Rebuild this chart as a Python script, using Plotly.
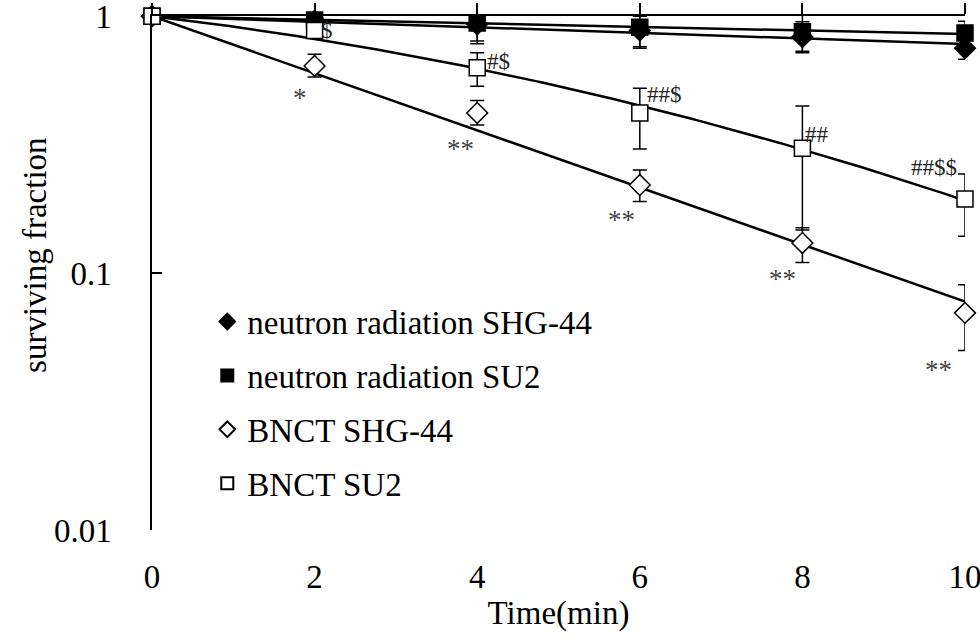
import numpy as np
import plotly.graph_objects as go

# ---- data ----
time_min = [0, 2, 4, 6, 8, 10]

neutron_shg44 = [1.0, 0.96, 0.93, 0.88, 0.83, 0.75]
neutron_shg44_upper = [1.0, 1.01, 1.05, 1.00, 0.95, 0.82]
neutron_shg44_lower = [1.0, 0.91, 0.80, 0.76, 0.72, 0.68]

neutron_su2 = [1.0, 0.965, 0.94, 0.905, 0.87, 0.86]
neutron_su2_upper = [1.0, 1.03, 1.10, 1.07, 1.06, 0.955]
neutron_su2_lower = [1.0, 0.90, 0.78, 0.75, 0.73, 0.77]

bnct_shg44 = [1.0, 0.64, 0.42, 0.22, 0.131, 0.070]
bnct_shg44_upper = [1.0, 0.71, 0.47, 0.252, 0.15, 0.090]
bnct_shg44_lower = [1.0, 0.58, 0.377, 0.19, 0.11, 0.050]

bnct_su2 = [1.0, 0.88, 0.63, 0.42, 0.306, 0.194]
bnct_su2_upper = [1.0, 0.93, 0.72, 0.524, 0.447, 0.243]
bnct_su2_lower = [1.0, 0.83, 0.534, 0.304, 0.147, 0.139]

# significance labels (index into time_min)
star_labels = ["", "*", "**", "**", "**", "**"]
hash_labels = ["", "$", "#$", "##$", "##", "##$$"]

y_ticks = [0.01, 0.1, 1]
y_ticktext = ["0.01", "0.1", "1"]
x_ticks = [0, 2, 4, 6, 8, 10]

FONT = "Liberation Serif"
FS = 33

# ---- fits (from the data) ----
xs = np.array(time_min, dtype=float)
xfit = np.linspace(0, 10, 201)


def fit_log_linear(vals):
    ly = np.log10(np.array(vals))
    k = np.sum(xs * ly) / np.sum(xs * xs)
    return 10 ** (k * xfit)


def fit_log_quadratic(vals):
    ly = np.log10(np.array(vals))
    A = np.vstack([xs, xs ** 2]).T
    (a, b), *_ = np.linalg.lstsq(A, ly, rcond=None)
    return 10 ** (a * xfit + b * xfit ** 2)


def err(vals, upper, lower):
    return dict(
        type="data",
        symmetric=False,
        array=[u - v for u, v in zip(upper, vals)],
        arrayminus=[v - l for v, l in zip(vals, lower)],
        color="black",
        thickness=1.5,
        width=7,
    )


fig = go.Figure()

# trend lines
for yfit in [
    fit_log_linear(neutron_shg44),
    fit_log_linear(neutron_su2),
    fit_log_linear(bnct_shg44),
    fit_log_quadratic(bnct_su2),
]:
    fig.add_trace(go.Scatter(x=xfit, y=yfit, mode="lines",
                             line=dict(color="black", width=2.5),
                             showlegend=False, hoverinfo="skip", cliponaxis=False))

series = [
    ("neutron radiation SHG-44", neutron_shg44, neutron_shg44_upper, neutron_shg44_lower, "diamond", "black"),
    ("neutron radiation SU2", neutron_su2, neutron_su2_upper, neutron_su2_lower, "square", "black"),
    ("BNCT SHG-44", bnct_shg44, bnct_shg44_upper, bnct_shg44_lower, "diamond", "white"),
    ("BNCT SU2", bnct_su2, bnct_su2_upper, bnct_su2_lower, "square", "white"),
]
for i, (name, vals, up, lo, sym, fill) in enumerate(series):
    fig.add_trace(go.Scatter(
        x=time_min, y=vals, name=name, mode="markers",
        marker=dict(symbol=sym, size=16, color=fill,
                    line=dict(color="black", width=1.5)),
        error_y=err(vals, up, lo),
        legendgroup=f"g{i}", cliponaxis=False,
    ))

# invisible anchor trace so the top axis is drawn
fig.add_trace(go.Scatter(x=[0, 10], y=[1, 1], xaxis="x2", mode="markers",
                         marker=dict(opacity=0), showlegend=False, hoverinfo="skip"))

# significance annotations
star_shift = [(0, 0), (-15, -32), (-17, -36), (-18, -35), (-20, -36), (-27, -57)]
for i, t in enumerate(star_labels):
    if t:
        fig.add_annotation(x=time_min[i], y=np.log10(bnct_shg44[i]), text=t, showarrow=False,
                           xshift=star_shift[i][0], yshift=star_shift[i][1],
                           font=dict(family=FONT, size=27, color="#444"))
hash_cfg = [None, ("center", 12, 0), ("left", 8, 6), ("left", 5, 18), ("left", 1, 14), ("right", -6, 32)]
for i, t in enumerate(hash_labels):
    if t:
        anc, dx, dy = hash_cfg[i]
        fig.add_annotation(x=time_min[i], y=np.log10(bnct_su2[i]), text=t, showarrow=False,
                           xanchor=anc, xshift=dx, yshift=dy,
                           font=dict(family=FONT, size=23, color="#222"))

# y-axis title
fig.add_annotation(xref="paper", yref="paper", x=-0.144, y=0.535, text="surviving fraction",
                   textangle=-90, showarrow=False, xanchor="center", yanchor="middle",
                   font=dict(family=FONT, size=FS, color="black"))

fig.update_layout(
    width=980, height=642,
    margin=dict(l=152, r=15, t=16, b=112),
    paper_bgcolor="white", plot_bgcolor="white",
    font=dict(family=FONT, color="black", size=FS),
    showlegend=True,
    legend=dict(x=0.068, y=0.46, xanchor="left", yanchor="top",
                font=dict(family=FONT, size=FS, color="black"),
                bgcolor="rgba(0,0,0,0)", tracegroupgap=8, itemsizing="constant"),
    xaxis=dict(range=[0, 10], tickmode="array", tickvals=x_ticks, showline=False, ticks="",
               showgrid=False, zeroline=False, ticklabelstandoff=24,
               ticklabeloverflow="allow", automargin=False,
               tickfont=dict(family=FONT, size=FS),
               title=dict(text="Time(min)", font=dict(family=FONT, size=FS), standoff=6)),
    xaxis2=dict(range=[0, 10], overlaying="x", side="top", anchor="y",
                tickmode="array", tickvals=x_ticks, showticklabels=False,
                showline=True, linecolor="black", automargin=False,
                linewidth=1.5, ticks="outside", ticklen=11, tickwidth=1.5, tickcolor="black",
                showgrid=False, zeroline=False),
    yaxis=dict(type="log", range=[-2, 0.0005], tickmode="array", tickvals=y_ticks, ticktext=y_ticktext,
               showline=True, linecolor="black", linewidth=1.5,
               ticks="inside", ticklen=10, tickwidth=1.5, tickcolor="black",
               showgrid=False, zeroline=False, ticklabelstandoff=32,
               ticklabeloverflow="allow", automargin=False,
               tickfont=dict(family=FONT, size=FS)),
)

fig.write_html("out.html")
